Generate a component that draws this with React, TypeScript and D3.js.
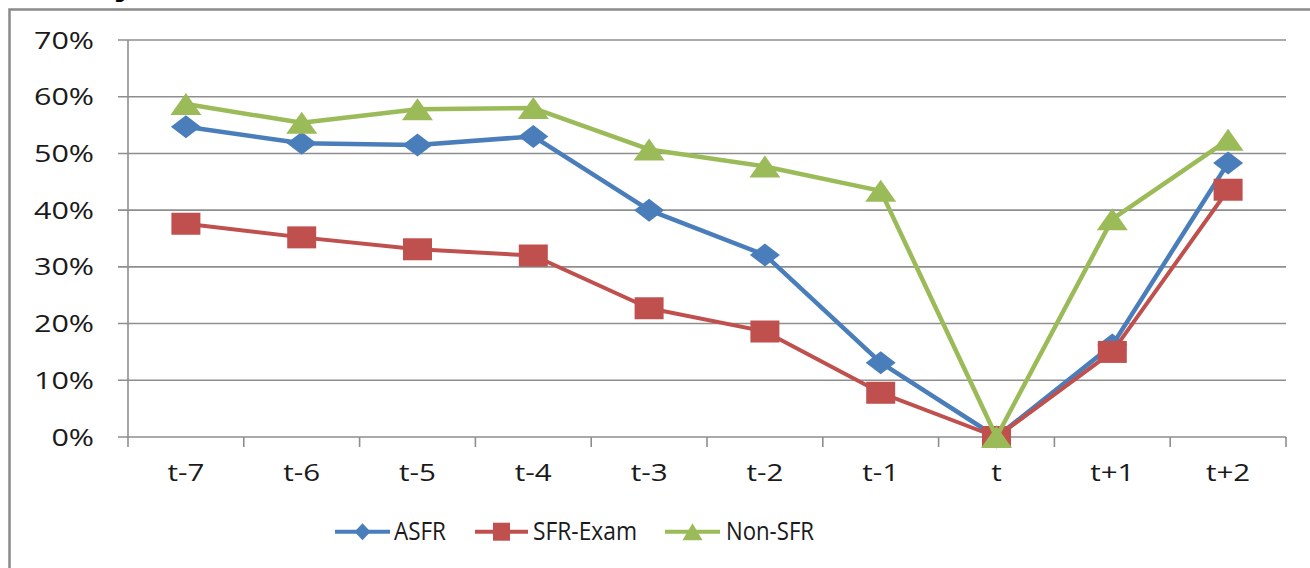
import React from "react";
import * as d3 from "d3";

const categories = ["t-7", "t-6", "t-5", "t-4", "t-3", "t-2", "t-1", "t", "t+1", "t+2"];
const asfr = [0.547, 0.518, 0.515, 0.53, 0.4, 0.321, 0.131, 0.0, 0.162, 0.483];
const sfrExam = [0.376, 0.352, 0.331, 0.32, 0.227, 0.186, 0.078, 0.0, 0.15, 0.436];
const nonSfr = [0.587, 0.554, 0.578, 0.58, 0.507, 0.477, 0.434, 0.0, 0.384, 0.524];
const yTicks = [0, 0.1, 0.2, 0.3, 0.4, 0.5, 0.6, 0.7];
const seriesNames = ["ASFR", "SFR-Exam", "Non-SFR"];

const W = 1310;
const H = 568;
const FONT = "'Open Sans', 'DejaVu Sans', sans-serif";
const GRID = "#8e8e8e";
const TEXT = "#1a1a1a";

type Shape = "diamond" | "square" | "triangle";

function markerPath(shape: Shape, w: number, h: number): string {
  const a = w / 2;
  const b = h / 2;
  if (shape === "diamond") return `M0,${-b}L${a},0L0,${b}L${-a},0Z`;
  if (shape === "square") return `M${-a},${-b}H${a}V${b}H${-a}Z`;
  return `M0,${-b}L${a},${b}L${-a},${b}Z`;
}

const series = [
  { name: seriesNames[0], values: asfr, color: "#4a7ebb", width: 4.5, shape: "diamond" as Shape, mw: 30, mh: 23, lw: 16, lh: 17, lx1: 335, lx2: 390, tx: 394, tl: 52 },
  { name: seriesNames[1], values: sfrExam, color: "#c0504d", width: 4, shape: "square" as Shape, mw: 29, mh: 22, lw: 17, lh: 18, lx1: 475, lx2: 528, tx: 533, tl: 104 },
  { name: seriesNames[2], values: nonSfr, color: "#9bbb59", width: 4.5, shape: "triangle" as Shape, mw: 31, mh: 22, lw: 20, lh: 17, lx1: 665, lx2: 720, tx: 726, tl: 88 },
];

export default function App() {
  const x = d3.scaleBand<string>().domain(categories).range([128, 1286]).padding(0);
  const y = d3.scaleLinear().domain([0, 0.7]).range([437, 40]);
  const bw = x.bandwidth();
  const cx = (c: string) => (x(c) as number) + bw / 2;
  const fmt = d3.format(".0%");
  const boundaries = [...categories.map((c) => x(c) as number), x.range()[1]];
  const legendY = 531.7;

  return (
    <svg
      width={W}
      height={H}
      style={{ position: "absolute", left: 0, top: 0, background: "#fff" }}
      fontFamily={FONT}
    >
      <rect x={0} y={0} width={W} height={H} fill="#fff" />
      {/* cut-off title fragment (the reference shows only its descender) */}
      <text x={114} y={-6} fontSize={38} fontWeight="bold" fontFamily="'Liberation Sans', Arial, sans-serif" fill="#000">
        y
      </text>
      {/* frame */}
      <rect x={9.5} y={9.5} width={1330} height={620} fill="none" stroke="#8a8a8a" strokeWidth={2.5} />

      {/* gridlines */}
      {yTicks.map((t) => (
        <line key={"g" + t} x1={118} x2={x.range()[1]} y1={y(t)} y2={y(t)} stroke={GRID} strokeWidth={1.6} />
      ))}
      {/* y axis line */}
      <line x1={128} x2={128} y1={y(0.7)} y2={y(0)} stroke={GRID} strokeWidth={1.6} />
      {/* x tick marks */}
      {boundaries.map((b, i) => (
        <line key={"xt" + i} x1={b} x2={b} y1={y(0)} y2={y(0) + 10} stroke={GRID} strokeWidth={1.6} />
      ))}

      {/* y labels */}
      {yTicks.map((t) => (
        <g key={"yl" + t} transform={`translate(94,${y(t) + 8.6}) scale(1.27,1)`}>
          <text textAnchor="end" fontSize={24} fill={TEXT}>
            {fmt(t)}
          </text>
        </g>
      ))}
      {/* x labels */}
      {categories.map((c) => (
        <g key={"xl" + c} transform={`translate(${cx(c)},481) scale(1.23,1)`}>
          <text textAnchor="middle" fontSize={24} fill={TEXT}>
            {c}
          </text>
        </g>
      ))}

      {/* series */}
      {series.map((s) => {
        const line = d3
          .line<number>()
          .x((_, i) => cx(categories[i]))
          .y((v) => y(v));
        return (
          <g key={s.name}>
            <path d={line(s.values) || ""} fill="none" stroke={s.color} strokeWidth={s.width} strokeLinejoin="round" />
            {s.values.map((v, i) => (
              <path
                key={i}
                d={markerPath(s.shape, s.mw, s.mh)}
                transform={`translate(${cx(categories[i])},${y(v)})`}
                fill={s.color}
              />
            ))}
          </g>
        );
      })}

      {/* legend */}
      {series.map((s) => (
        <g key={"lg" + s.name}>
          <line x1={s.lx1} x2={s.lx2} y1={legendY} y2={legendY} stroke={s.color} strokeWidth={4} />
          <path
            d={markerPath(s.shape, s.lw, s.lh)}
            transform={`translate(${(s.lx1 + s.lx2) / 2},${legendY})`}
            fill={s.color}
          />
          <text x={s.tx} y={540} fontSize={25} fill={TEXT} textLength={s.tl} lengthAdjust="spacingAndGlyphs">
            {s.name}
          </text>
        </g>
      ))}
    </svg>
  );
}
